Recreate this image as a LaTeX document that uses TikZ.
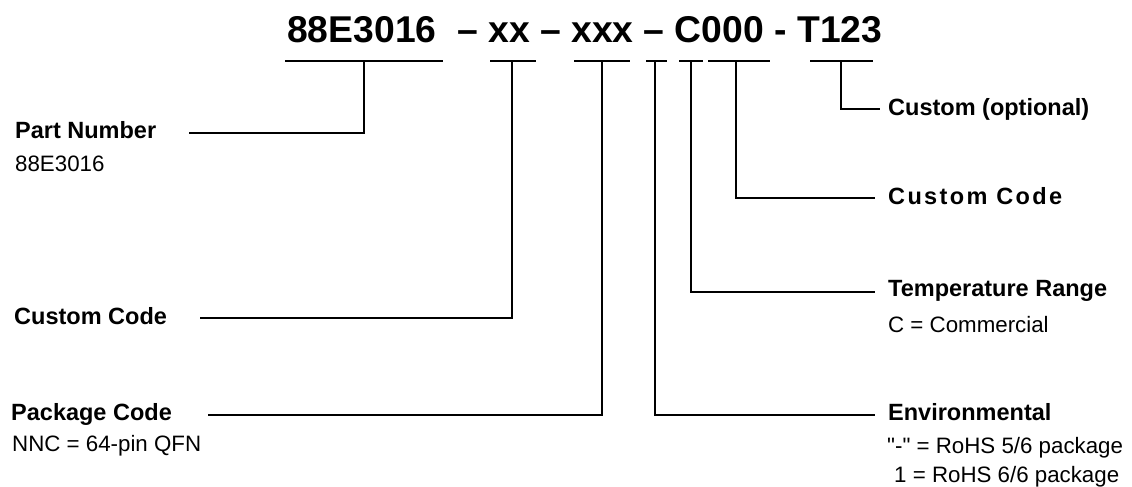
\documentclass[tikz,border=0pt]{standalone}
\usepackage{fontspec}
\setmainfont{Liberation Sans}[Ligatures=TeXOff]
\begin{document}
\begin{tikzpicture}[x=1pt,y=-1pt,
  ln/.style={line width=2.6pt, line join=miter},
  lbl/.style={inner sep=0pt, anchor=base west, font=\fontsize{23.5}{28}\selectfont\bfseries},
  sub/.style={inner sep=0pt, anchor=base west, font=\fontsize{22.3}{26}\selectfont},
  ttl/.style={inner sep=0pt, anchor=base west, font=\fontsize{37.3}{44}\selectfont\bfseries}]
\useasboundingbox (0,0) rectangle (1132,487);
% title
\node[ttl] (title) at (287,43) {88E3016\ \ – xx – xxx – C000 - T123};
% underline bars
\foreach \a/\b in {285/443, 490/536, 574/630, 646/667, 679/703, 708/770, 810/873}
  \draw[ln] (\a,61) -- (\b,61);
% bar taps
\coordinate (v1) at (364,61);
\coordinate (v2) at (512,61);
\coordinate (v3) at (602,61);
\coordinate (v4) at (655,61);
\coordinate (v5) at (691,61);
\coordinate (v6) at (736,61);
\coordinate (v7) at (841,61);
% label line ends
\coordinate (e1) at (189,133);
\coordinate (e2) at (200,318);
\coordinate (e3) at (208,415);
\coordinate (e4) at (875,415);
\coordinate (e5) at (875,292);
\coordinate (e6) at (875,198);
\coordinate (e7) at (880,109);
% labels
\node[lbl] (pn) at (15,138) {Part Number};
\node[sub] (pnv) at (15,171) {88E3016};
\node[lbl] (ccl) at (14,324) {Custom Code};
\node[lbl] (pc) at (11,420) {Package Code};
\node[sub] (pcv) at (12,451) {NNC = 64-pin QFN};
\node[lbl] (co) at (888,115) {Custom (optional)};
\node[lbl] (ccr) at (888,204) {\addfontfeature{LetterSpace=10}Custom Code};
\node[lbl] (tr) at (888,296) {Temperature Range};
\node[sub] (trv) at (888,332) {C = Commercial};
\node[lbl] (env) at (888,420) {Environmental};
\node[sub] (env1) at (887,453) {"-" = RoHS 5/6 package};
\node[sub] (env2) at (894,482) {1 = RoHS 6/6 package};
% connectors
\draw[ln] (v1) |- (e1);
\draw[ln] (v2) |- (e2);
\draw[ln] (v3) |- (e3);
\draw[ln] (v4) |- (e4);
\draw[ln] (v5) |- (e5);
\draw[ln] (v6) |- (e6);
\draw[ln] (v7) |- (e7);
\end{tikzpicture}
\end{document}
